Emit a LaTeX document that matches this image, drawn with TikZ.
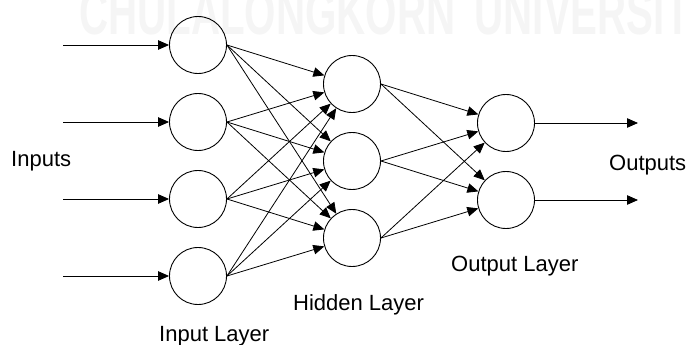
\documentclass[tikz,border=0pt]{standalone}
\usepackage{fontspec}
\setmainfont{Liberation Sans}
\usetikzlibrary{arrows.meta}
\begin{document}
\begin{tikzpicture}[x=1pt,y=-1pt,
  neuron/.style={circle,draw,line width=0.9pt,minimum size=57pt,inner sep=0pt},
  conn/.style={line width=0.8pt,-{Triangle[length=11pt,width=9.5pt]}},
  lbl/.style={anchor=base west,inner sep=0pt,font=\fontsize{22}{26}\selectfont},
  wmark/.style={anchor=base west,inner sep=0pt,text=black!4,xscale=0.64,
    font=\fontsize{63}{66}\selectfont\bfseries}]
\useasboundingbox (0,0) rectangle (689,345);
\node[wmark] (wm) at (79,35) {CHULALONGKORN\hspace{30pt}UNIVERSITY};
% input layer
\node[neuron] (i1) at (198,45) {};
\node[neuron] (i2) at (198,122) {};
\node[neuron] (i3) at (198,199) {};
\node[neuron] (i4) at (198,276) {};
% hidden layer
\node[neuron] (h1) at (352,84) {};
\node[neuron] (h2) at (352,161) {};
\node[neuron] (h3) at (352,238) {};
% output layer
\node[neuron] (o1) at (506,123) {};
\node[neuron] (o2) at (506,200) {};
% free ends
\coordinate (a1) at (63,45);
\coordinate (a2) at (63,122);
\coordinate (a3) at (63,199);
\coordinate (a4) at (63,276);
\coordinate (b1) at (638,123);
\coordinate (b2) at (638,200);
\foreach \k in {1,2,3,4} {\draw[conn] (a\k) -- (i\k);}
\foreach \k in {1,2} {\draw[conn] (o\k) -- (b\k);}
\foreach \i in {1,2,3,4} {\foreach \h in {1,2,3} {\draw[conn] (i\i.east) -- (h\h);}}
\foreach \h in {1,2,3} {\foreach \o in {1,2} {\draw[conn] (h\h.east) -- (o\o);}}
% labels
\node[lbl] (tin) at (11,166) {Inputs};
\node[lbl] (tout) at (609,171) {Outputs};
\node[lbl] (til) at (159,341) {Input Layer};
\node[lbl] (thl) at (293,310) {Hidden Layer};
\node[lbl] (tol) at (451,271.5) {Output Layer};
\end{tikzpicture}
\end{document}
